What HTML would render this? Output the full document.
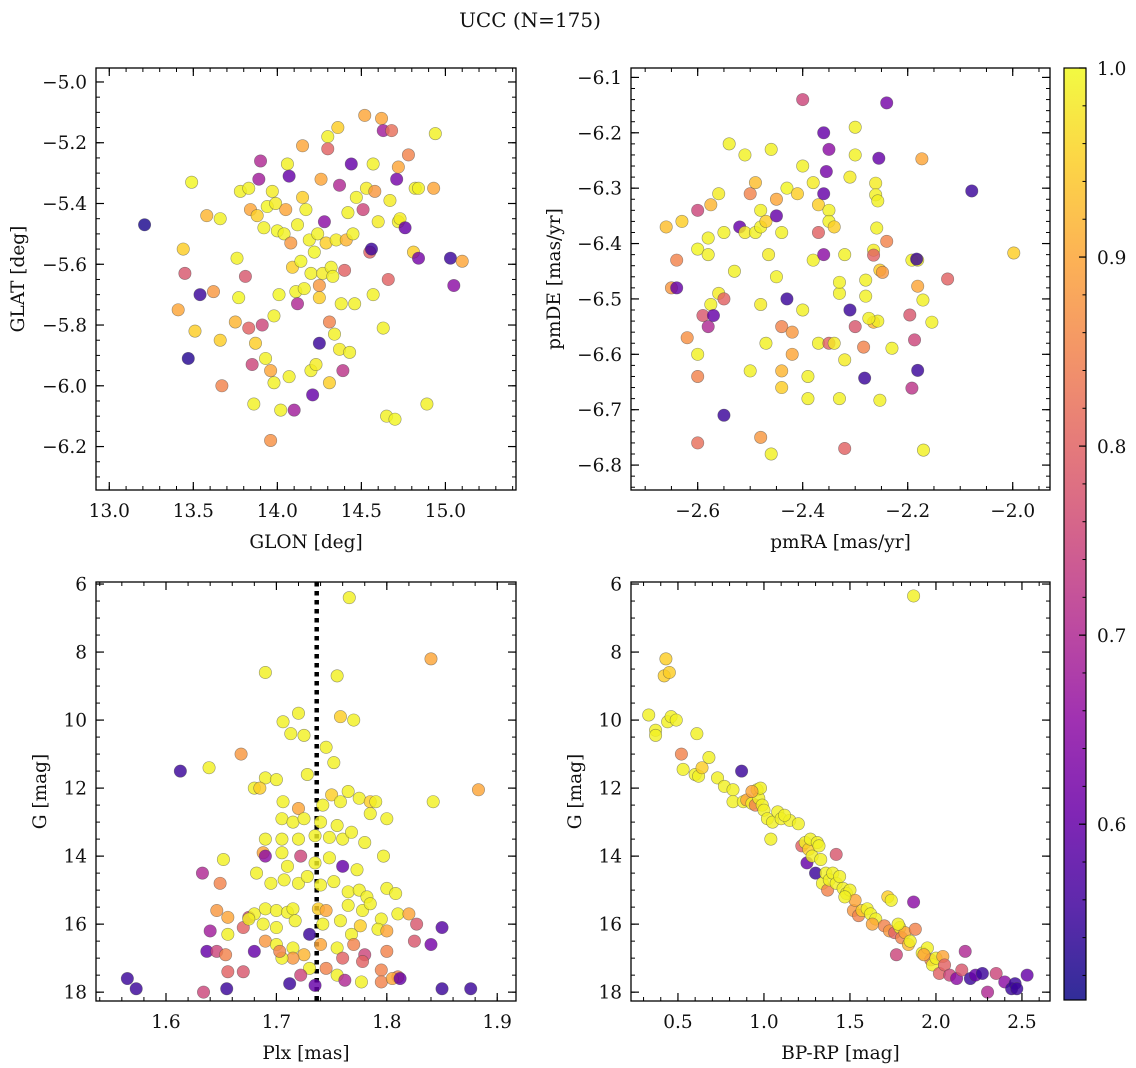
<!DOCTYPE html>
<html><head><meta charset="utf-8">
<style>
html,body{margin:0;padding:0;background:#fff;}
svg{display:block;font-family:"DejaVu Serif","Liberation Serif",serif;}
</style></head>
<body>
<svg id="fig" width="1136" height="1068" viewBox="0 0 1136 1068" xmlns="http://www.w3.org/2000/svg">
<text x="530" y="27" text-anchor="middle" font-size="20" fill="#111">UCC (N=175)</text>
</svg>
<script>
// ---- data: [x, y, membership probability] ----
const panelA = [[13.21,-5.47,.52],[13.44,-5.55,.95],[13.45,-5.63,.78],[13.41,-5.75,.9],[13.49,-5.33,.995],[13.47,-5.91,.53],[13.51,-5.82,.95],[13.54,-5.70,.55],[13.58,-5.44,.92],[13.62,-5.69,.88],[13.66,-5.45,.99],[13.66,-5.85,.95],[13.67,-6.00,.85],[13.76,-5.58,.99],[13.75,-5.79,.92],[13.77,-5.71,.995],[13.78,-5.36,.99],[13.81,-5.64,.78],[13.83,-5.35,.99],[13.83,-5.81,.8],[13.84,-5.42,.9],[13.85,-5.93,.75],[13.86,-6.06,.99],[13.87,-5.86,.95],[13.88,-5.44,.95],[13.89,-5.32,.68],[13.9,-5.26,.7],[13.91,-5.80,.75],[13.92,-5.48,.99],[13.93,-5.91,.99],[13.94,-5.41,.995],[13.96,-6.18,.87],[13.96,-5.95,.9],[13.97,-5.36,.985],[13.98,-5.99,.99],[13.98,-5.77,.99],[13.99,-5.40,.985],[14.0,-5.49,.995],[14.01,-5.70,.995],[14.02,-6.08,.99],[14.04,-5.50,.99],[14.05,-5.42,.9],[14.06,-5.27,.99],[14.07,-5.31,.6],[14.07,-5.97,.99],[14.08,-5.53,.88],[14.09,-5.61,.95],[14.1,-6.08,.68],[14.11,-5.69,.99],[14.12,-5.47,.99],[14.12,-5.73,.7],[14.14,-5.59,.995],[14.15,-5.38,.95],[14.15,-5.21,.9],[14.16,-5.68,.99],[14.17,-5.42,.99],[14.19,-5.52,.99],[14.2,-5.95,.99],[14.2,-5.63,.99],[14.21,-6.03,.6],[14.22,-5.56,.995],[14.23,-5.93,.985],[14.24,-5.50,.99],[14.25,-5.71,.95],[14.25,-5.67,.88],[14.25,-5.86,.55],[14.26,-5.32,.9],[14.27,-5.63,.985],[14.28,-5.46,.65],[14.29,-5.53,.95],[14.3,-5.18,.99],[14.3,-5.22,.8],[14.31,-5.79,.85],[14.31,-5.99,.95],[14.32,-5.61,.99],[14.33,-5.64,.99],[14.34,-5.83,.99],[14.35,-5.52,.985],[14.36,-5.15,.95],[14.37,-5.34,.7],[14.37,-5.88,.985],[14.38,-5.73,.99],[14.39,-5.95,.72],[14.4,-5.62,.8],[14.41,-5.52,.92],[14.42,-5.43,.99],[14.43,-5.89,.99],[14.44,-5.27,.6],[14.45,-5.50,.99],[14.46,-5.73,.99],[14.47,-5.38,.99],[14.51,-5.42,.75],[14.52,-5.11,.9],[14.53,-5.35,.985],[14.55,-5.56,.8],[14.56,-5.55,.55],[14.57,-5.27,.99],[14.57,-5.70,.99],[14.58,-5.36,.88],[14.6,-5.46,.985],[14.62,-5.12,.9],[14.63,-5.16,.68],[14.63,-5.81,.99],[14.65,-6.10,.99],[14.66,-5.65,.8],[14.67,-5.39,.985],[14.68,-5.16,.82],[14.7,-6.11,.995],[14.71,-5.32,.62],[14.72,-5.28,.9],[14.72,-5.46,.99],[14.73,-5.45,.985],[14.76,-5.48,.6],[14.78,-5.24,.85],[14.81,-5.56,.95],[14.82,-5.35,.99],[14.84,-5.35,.99],[14.84,-5.58,.62],[14.89,-6.06,.99],[14.93,-5.35,.9],[14.94,-5.17,.99],[15.03,-5.58,.55],[15.05,-5.67,.65],[15.1,-5.59,.9]];
const panelB = [[-2.66,-6.37,.93],[-2.65,-6.48,.88],[-2.64,-6.43,.85],[-2.64,-6.48,.6],[-2.63,-6.36,.95],[-2.62,-6.57,.87],[-2.6,-6.41,.995],[-2.6,-6.34,.75],[-2.6,-6.60,.99],[-2.6,-6.64,.85],[-2.6,-6.76,.82],[-2.59,-6.53,.78],[-2.58,-6.39,.99],[-2.58,-6.42,.99],[-2.58,-6.55,.7],[-2.575,-6.33,.92],[-2.575,-6.51,.99],[-2.57,-6.53,.6],[-2.56,-6.49,.985],[-2.56,-6.31,.985],[-2.55,-6.38,.99],[-2.55,-6.50,.8],[-2.55,-6.71,.55],[-2.54,-6.22,.99],[-2.53,-6.45,.99],[-2.52,-6.37,.6],[-2.51,-6.24,.99],[-2.51,-6.38,.985],[-2.5,-6.63,.99],[-2.5,-6.31,.85],[-2.49,-6.29,.93],[-2.49,-6.38,.99],[-2.48,-6.34,.99],[-2.48,-6.37,.99],[-2.48,-6.51,.985],[-2.48,-6.75,.88],[-2.47,-6.36,.95],[-2.47,-6.58,.99],[-2.465,-6.42,.985],[-2.46,-6.78,.99],[-2.46,-6.23,.99],[-2.45,-6.46,.99],[-2.45,-6.35,.6],[-2.45,-6.32,.9],[-2.44,-6.38,.99],[-2.44,-6.66,.95],[-2.44,-6.63,.92],[-2.44,-6.55,.85],[-2.43,-6.30,.995],[-2.43,-6.50,.55],[-2.42,-6.56,.88],[-2.42,-6.60,.9],[-2.41,-6.31,.95],[-2.4,-6.14,.75],[-2.4,-6.26,.99],[-2.4,-6.52,.99],[-2.39,-6.68,.99],[-2.39,-6.64,.99],[-2.38,-6.29,.985],[-2.38,-6.43,.99],[-2.37,-6.58,.99],[-2.37,-6.33,.95],[-2.37,-6.38,.8],[-2.36,-6.31,.6],[-2.36,-6.20,.6],[-2.36,-6.42,.65],[-2.355,-6.27,.62],[-2.35,-6.34,.99],[-2.35,-6.36,.99],[-2.35,-6.23,.65],[-2.35,-6.58,.8],[-2.34,-6.58,.985],[-2.34,-6.37,.95],[-2.33,-6.49,.99],[-2.33,-6.68,.99],[-2.33,-6.47,.99],[-2.32,-6.42,.99],[-2.32,-6.61,.985],[-2.32,-6.77,.8],[-2.31,-6.52,.55],[-2.31,-6.28,.985],[-2.3,-6.24,.99],[-2.3,-6.19,.99],[-2.3,-6.55,.78],[-2.24,-6.146,.62],[-2.255,-6.246,.6],[-2.261,-6.291,.985],[-2.261,-6.312,.99],[-2.257,-6.323,.99],[-2.24,-6.396,.85],[-2.259,-6.372,.99],[-2.265,-6.412,.985],[-2.265,-6.421,.8],[-2.253,-6.448,.95],[-2.248,-6.452,.88],[-2.28,-6.466,.99],[-2.28,-6.495,.99],[-2.265,-6.542,.92],[-2.257,-6.540,.99],[-2.274,-6.535,.99],[-2.284,-6.587,.85],[-2.23,-6.589,.99],[-2.282,-6.643,.55],[-2.253,-6.683,.99],[-2.196,-6.529,.78],[-2.192,-6.43,.99],[-2.181,-6.43,.99],[-2.183,-6.428,.55],[-2.181,-6.477,.9],[-2.171,-6.502,.99],[-2.154,-6.542,.99],[-2.187,-6.574,.75],[-2.181,-6.629,.55],[-2.192,-6.661,.72],[-2.17,-6.773,.99],[-2.173,-6.247,.9],[-2.124,-6.464,.8],[-2.078,-6.305,.55],[-1.998,-6.417,.95]];
const panelC = [[1.565,17.6,.55],[1.573,17.9,.55],[1.613,11.5,.55],[1.639,11.4,.99],[1.633,14.5,.7],[1.634,18.0,.75],[1.64,16.2,.68],[1.637,16.8,.6],[1.646,16.8,.75],[1.652,14.1,.99],[1.655,17.9,.55],[1.649,14.8,.85],[1.646,15.6,.88],[1.656,15.8,.9],[1.656,16.3,.99],[1.654,16.9,.85],[1.668,11.0,.88],[1.67,17.4,.78],[1.67,16.1,.8],[1.675,15.8,.75],[1.68,16.8,.6],[1.69,8.6,.99],[1.766,6.4,.99],[1.755,8.7,.99],[1.84,8.2,.9],[1.72,9.8,.99],[1.706,10.05,.99],[1.713,10.4,.99],[1.725,10.45,.99],[1.758,9.9,.95],[1.77,10.0,.99],[1.745,10.8,.99],[1.752,11.25,.99],[1.69,11.7,.99],[1.7,11.75,.99],[1.68,12.0,.99],[1.685,12.0,.95],[1.728,11.6,.99],[1.706,12.4,.99],[1.72,12.6,.9],[1.742,12.5,.99],[1.75,12.2,.95],[1.758,12.4,.99],[1.765,12.1,.99],[1.775,12.3,.99],[1.785,12.4,.95],[1.79,12.4,.99],[1.8,12.9,.99],[1.842,12.4,.99],[1.883,12.05,.9],[1.705,12.9,.99],[1.715,13.0,.99],[1.725,12.9,.99],[1.74,13.0,.99],[1.755,13.1,.99],[1.785,12.75,.99],[1.69,13.5,.99],[1.705,13.5,.99],[1.72,13.5,.99],[1.735,13.4,.99],[1.748,13.45,.99],[1.76,13.5,.99],[1.768,13.3,.99],[1.78,13.6,.99],[1.688,13.9,.9],[1.69,14.0,.65],[1.705,13.9,.99],[1.71,14.3,.99],[1.722,14.0,.75],[1.735,14.2,.99],[1.748,14.05,.99],[1.76,14.3,.6],[1.773,14.4,.99],[1.797,14.0,.99],[1.682,14.5,.99],[1.695,14.8,.99],[1.707,14.7,.99],[1.72,14.8,.99],[1.728,14.6,.99],[1.74,14.85,.99],[1.752,14.75,.99],[1.765,15.05,.99],[1.775,15.0,.99],[1.782,15.2,.99],[1.8,14.95,.99],[1.808,15.1,.99],[1.68,15.7,.99],[1.69,15.55,.99],[1.7,15.6,.99],[1.71,15.65,.99],[1.715,15.55,.99],[1.738,15.55,.95],[1.745,15.6,.9],[1.765,15.45,.99],[1.778,15.6,.99],[1.785,15.4,.99],[1.795,15.85,.99],[1.81,15.7,.99],[1.82,15.7,.9],[1.675,15.85,.99],[1.688,16.0,.99],[1.7,16.1,.99],[1.717,15.9,.99],[1.73,16.3,.55],[1.742,16.0,.99],[1.758,15.9,.99],[1.768,16.3,.99],[1.776,16.05,.95],[1.792,16.15,.99],[1.8,16.2,.9],[1.69,16.5,.88],[1.7,16.6,.99],[1.715,16.7,.99],[1.725,16.9,.92],[1.74,16.6,.9],[1.755,16.7,.99],[1.77,16.6,.85],[1.78,16.9,.75],[1.8,16.8,.85],[1.825,16.5,.78],[1.715,17.0,.88],[1.73,17.3,.99],[1.745,17.3,.85],[1.76,17.0,.8],[1.778,17.1,.8],[1.795,17.35,.85],[1.81,17.55,.85],[1.84,16.6,.62],[1.85,16.1,.58],[1.827,16.0,.78],[1.722,17.5,.75],[1.755,17.5,.99],[1.762,17.65,.7],[1.777,17.7,.99],[1.795,17.7,.85],[1.805,17.6,.9],[1.812,17.6,.6],[1.712,17.75,.55],[1.735,17.8,.6],[1.85,17.9,.55],[1.876,17.9,.55],[1.656,17.4,.8],[1.705,17.0,.99],[1.703,16.8,.85]];
const panelD = [[0.33,9.85,.99],[0.37,10.3,.99],[0.37,10.45,.99],[0.42,8.7,.95],[0.43,8.2,.95],[0.45,8.6,.95],[0.44,10.05,.99],[0.46,9.9,.99],[0.49,10.0,.99],[0.52,11.0,.85],[0.53,11.45,.99],[0.6,11.6,.99],[0.61,10.4,.99],[0.62,11.65,.99],[0.64,11.4,.95],[0.68,11.1,.99],[0.73,11.7,.99],[0.77,11.95,.99],[0.82,12.05,.99],[0.82,12.4,.99],[0.87,11.5,.55],[0.88,12.4,.99],[0.9,12.35,.9],[0.93,12.45,.99],[0.95,12.5,.85],[0.96,12.05,.99],[0.97,12.3,.99],[0.98,12.0,.99],[0.99,12.5,.99],[1.0,12.65,.99],[1.02,12.9,.99],[1.04,13.5,.99],[1.05,13.0,.99],[1.08,12.7,.99],[1.1,12.9,.99],[1.15,12.95,.99],[1.2,13.05,.99],[1.22,13.7,.8],[1.24,13.6,.99],[1.25,14.2,.6],[1.26,13.8,.95],[1.27,13.5,.99],[1.28,14.0,.99],[1.3,14.5,.55],[1.31,13.6,.99],[1.32,13.7,.99],[1.33,14.1,.99],[1.34,14.8,.99],[1.36,14.5,.99],[1.37,15.0,.85],[1.38,14.7,.99],[1.4,14.5,.99],[1.42,13.95,.78],[1.42,14.8,.99],[1.44,14.6,.99],[1.46,14.95,.99],[1.48,15.1,.99],[1.5,15.0,.99],[1.52,15.6,.88],[1.53,15.3,.9],[1.55,15.75,.85],[1.57,15.6,.95],[1.6,15.55,.99],[1.62,15.7,.99],[1.65,15.85,.99],[1.7,16.05,.85],[1.72,15.2,.95],[1.73,16.2,.88],[1.74,15.3,.99],[1.76,16.25,.8],[1.77,16.9,.75],[1.79,16.1,.99],[1.8,16.4,.85],[1.82,16.25,.9],[1.84,16.6,.92],[1.85,16.5,.99],[1.87,15.35,.65],[1.87,6.35,.99],[1.88,16.15,.85],[1.92,16.85,.99],[1.95,16.7,.99],[1.97,17.05,.85],[1.98,17.2,.99],[2.0,17.0,.99],[2.02,17.45,.8],[2.04,16.95,.9],[2.05,17.2,.8],[2.08,17.5,.75],[2.12,17.6,.65],[2.15,17.35,.78],[2.17,16.8,.7],[2.2,17.6,.55],[2.23,17.5,.6],[2.27,17.45,.55],[2.3,18.0,.7],[2.35,17.45,.75],[2.4,17.7,.65],[2.44,17.9,.55],[2.46,17.75,.55],[2.47,17.9,.55],[2.53,17.5,.6],[1.78,16.0,.99],[1.93,16.9,.9],[1.63,16.0,.9],[1.47,15.2,.99],[1.12,12.8,.99],[0.93,12.1,.9]];
const plxLine = 1.7365;
const ticksA_x = [13.0,13.5,14.0,14.5,15.0];
const ticksA_y = [-5.0,-5.2,-5.4,-5.6,-5.8,-6.0,-6.2];
const ticksB_x = [-2.6,-2.4,-2.2,-2.0];
const ticksB_y = [-6.1,-6.2,-6.3,-6.4,-6.5,-6.6,-6.7,-6.8];
const ticksC_x = [1.6,1.7,1.8,1.9];
const ticksG = [6,8,10,12,14,16,18];
const ticksD_x = [0.5,1.0,1.5,2.0,2.5];
const cbTicks = [0.6,0.7,0.8,0.9,1.0];
const cbMin = 0.507, cbMax = 1.0;

const NS = "http://www.w3.org/2000/svg";
const svg = document.getElementById('fig');
function mk(tag, attrs, parent){ const e=document.createElementNS(NS,tag); for(const k in attrs) e.setAttribute(k,attrs[k]); (parent||svg).appendChild(e); return e; }

const plasma = [[13,8,135],[65,4,157],[106,0,168],[143,13,164],[177,42,144],[204,71,120],[225,100,98],[242,132,75],[252,166,54],[252,206,37],[240,249,33]];
function cmap(v){
  let t=(v-cbMin)/(cbMax-cbMin); t=Math.max(0,Math.min(1,t))*10;
  const i=Math.min(9,Math.floor(t)), f=t-i, a=plasma[i], b=plasma[i+1];
  return 'rgb('+Math.round(a[0]+(b[0]-a[0])*f)+','+Math.round(a[1]+(b[1]-a[1])*f)+','+Math.round(a[2]+(b[2]-a[2])*f)+')';
}
function fmt(v,d){ const s=Math.abs(v).toFixed(d); return (v<0?'\u2212':'')+s; }

function panel(cfg){
  const {name,x0,y0,w,h,xd,yd,xt,yt,xmin,ymin,xdec,ydec,xlabel,ylabel,ylx,data} = cfg;
  const sx = v => x0 + (v-xd[0])/(xd[1]-xd[0])*w;
  const sy = v => y0 + (v-yd[0])/(yd[1]-yd[0])*h;
  const g = mk('g',{});
  
  
  const clip = mk('clipPath',{id:'clip-'+name}, g);
  mk('rect',{x:x0,y:y0,width:w,height:h}, clip);
  const pts = mk('g',{'clip-path':'url(#clip-'+name+')'}, g);
  
  
  if(cfg.vline!==undefined){
    const l = mk('line',{x1:sx(cfg.vline),x2:sx(cfg.vline),y1:y0,y2:y0+h,stroke:'#000','stroke-width':4.5,'stroke-dasharray':'4.5,4.5'}, pts);
    
    
  }
  data.forEach(d=>{
    const c = mk('circle',{cx:sx(d[0]),cy:sy(d[1]),r:6.2,fill:cmap(d[2]),'fill-opacity':0.82,stroke:'rgba(70,70,70,0.55)','stroke-width':0.6}, pts);
    
    
  });
  const lo=Math.min(xd[0],xd[1]), hi=Math.max(xd[0],xd[1]);
  for(let v=Math.ceil(lo/xmin-1e-6)*xmin; v<=hi+1e-9; v+=xmin){
    const X=sx(v); mk('line',{x1:X,x2:X,y1:y0+h,y2:y0+h-4,stroke:'#000','stroke-width':1},g); mk('line',{x1:X,x2:X,y1:y0,y2:y0+4,stroke:'#000','stroke-width':1},g);
  }
  const ylo=Math.min(yd[0],yd[1]), yhi=Math.max(yd[0],yd[1]);
  for(let v=Math.ceil(ylo/ymin-1e-6)*ymin; v<=yhi+1e-9; v+=ymin){
    const Y=sy(v); mk('line',{x1:x0,x2:x0+4,y1:Y,y2:Y,stroke:'#000','stroke-width':1},g); mk('line',{x1:x0+w,x2:x0+w-4,y1:Y,y2:Y,stroke:'#000','stroke-width':1},g);
  }
  xt.forEach(v=>{
    const X=sx(v);
    mk('line',{x1:X,x2:X,y1:y0+h,y2:y0+h-8,stroke:'#000','stroke-width':1.2},g);
    mk('line',{x1:X,x2:X,y1:y0,y2:y0+8,stroke:'#000','stroke-width':1.2},g);
    const t=mk('text',{x:X,y:y0+h+27,'text-anchor':'middle','font-size':18.5,fill:'#111'},g); t.textContent=fmt(v,xdec);
    
    
  });
  yt.forEach(v=>{
    const Y=sy(v);
    mk('line',{x1:x0,x2:x0+8,y1:Y,y2:Y,stroke:'#000','stroke-width':1.2},g);
    mk('line',{x1:x0+w,x2:x0+w-8,y1:Y,y2:Y,stroke:'#000','stroke-width':1.2},g);
    const t=mk('text',{x:x0-9,y:Y+6.5,'text-anchor':'end','font-size':18.5,fill:'#111'},g); t.textContent=fmt(v,ydec);
    
    
  });
  mk('rect',{x:x0,y:y0,width:w,height:h,fill:'none',stroke:'#000','stroke-width':1.3},g);
  const xl=mk('text',{x:x0+w/2,y:y0+h+58,'text-anchor':'middle','font-size':18.5,fill:'#111'},g); xl.textContent=xlabel;
  
  
  const yc=y0+h/2;
  const yl=mk('text',{x:ylx,y:yc,'text-anchor':'middle','font-size':18.5,fill:'#111',transform:'rotate(-90 '+ylx+' '+yc+')'},g); yl.textContent=ylabel;
  
  
}

panel({name:'sky',x0:96,y0:68,w:420,h:422,xd:[12.921,15.42],yd:[-4.954,-6.343],xt:ticksA_x,yt:ticksA_y,xmin:0.1,ymin:0.05,xdec:1,ydec:1,xlabel:'GLON [deg]',ylabel:'GLAT [deg]',ylx:24,data:panelA});
panel({name:'proper-motion',x0:631,y0:68,w:419,h:422,xd:[-2.727,-1.929],yd:[-6.083,-6.845],xt:ticksB_x,yt:ticksB_y,xmin:0.05,ymin:0.02,xdec:1,ydec:1,xlabel:'pmRA [mas/yr]',ylabel:'pmDE [mas/yr]',ylx:560,data:panelB});
panel({name:'parallax',x0:96,y0:582,w:420,h:419,xd:[1.5366,1.917],yd:[5.94,18.26],xt:ticksC_x,yt:ticksG,xmin:0.02,ymin:0.5,xdec:1,ydec:0,xlabel:'Plx [mas]',ylabel:'G [mag]',ylx:46,data:panelC,vline:plxLine});
panel({name:'cmd',x0:631,y0:582,w:419,h:419,xd:[0.227,2.663],yd:[5.94,18.26],xt:ticksD_x,yt:ticksG,xmin:0.1,ymin:0.5,xdec:1,ydec:0,xlabel:'BP-RP [mag]',ylabel:'G [mag]',ylx:581,data:panelD});

(function(){
  const x0=1064,y0=68,w=22,h=932;
  const g=mk('g',{});
  
  
  const defs=mk('defs',{},g);
  const lg=mk('linearGradient',{id:'cbgrad',x1:0,y1:1,x2:0,y2:0},defs);
  for(let i=0;i<=20;i++){ const v=cbMin+(cbMax-cbMin)*i/20; mk('stop',{offset:(i/20),'stop-color':cmap(v),'stop-opacity':0.85},lg); }
  mk('rect',{x:x0,y:y0,width:w,height:h,fill:'url(#cbgrad)'},g);
  const sy=v=>y0+h-(v-cbMin)/(cbMax-cbMin)*h;
  for(let v=0.52; v<=1.0001; v+=0.02){ const Y=sy(v); mk('line',{x1:x0+w,x2:x0+w-3.5,y1:Y,y2:Y,stroke:'#000','stroke-width':1},g); }
  cbTicks.forEach(v=>{ const Y=sy(v);
    mk('line',{x1:x0+w,x2:x0+w-7,y1:Y,y2:Y,stroke:'#000','stroke-width':1.2},g);
    const t=mk('text',{x:x0+w+11,y:Y+7,'font-size':18.5,fill:'#111'},g); t.textContent=v.toFixed(1);
    
    
  });
  mk('rect',{x:x0,y:y0,width:w,height:h,fill:'none',stroke:'#000','stroke-width':1.2},g);
})();
</script>
</body></html>
